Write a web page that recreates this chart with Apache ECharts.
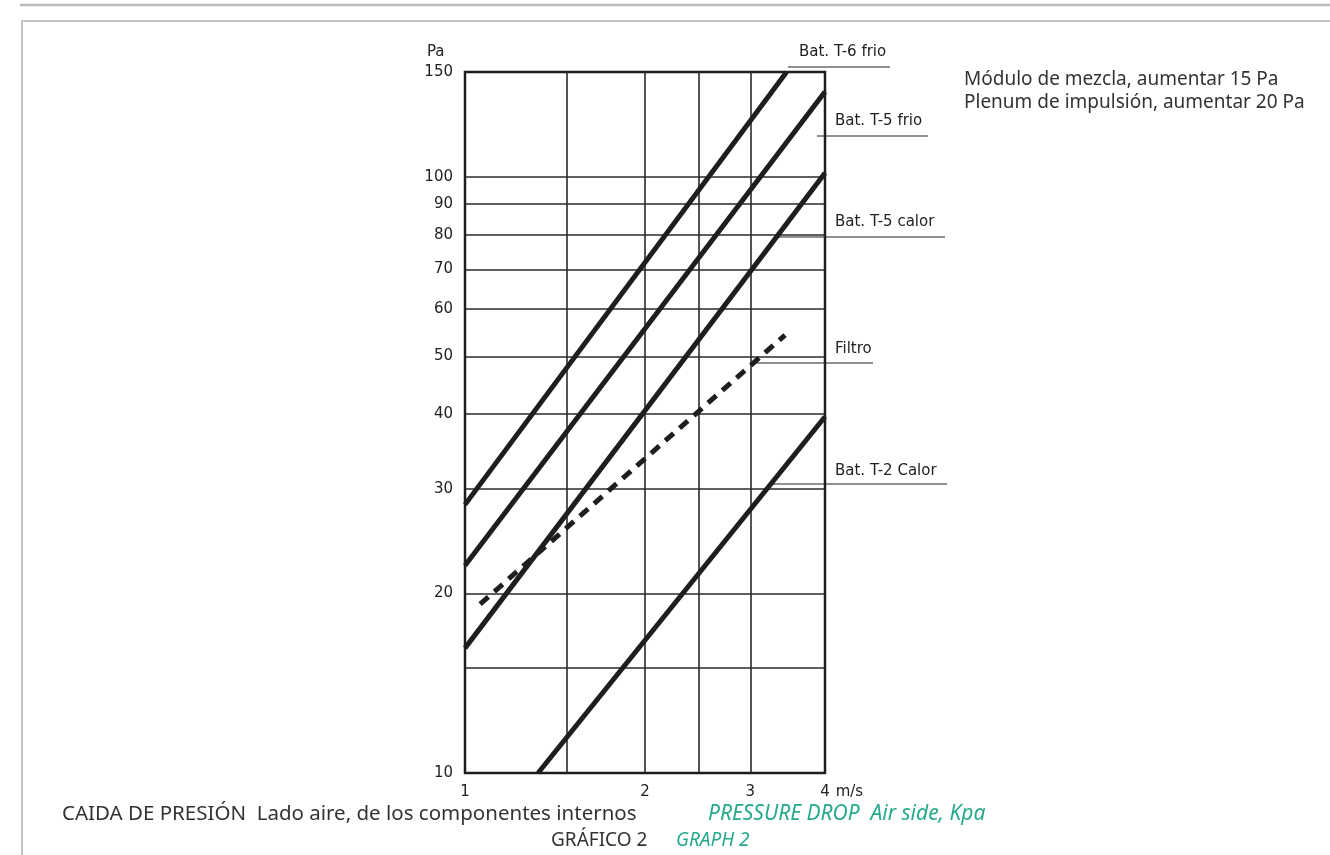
<!DOCTYPE html>
<html>
<head>
<meta charset="utf-8">
<script src="https://cdn.jsdelivr.net/npm/echarts@6/dist/echarts.min.js"></script>
<style>
  html, body { margin: 0; padding: 0; background: #fff; }
  #chart { width: 1330px; height: 855px; }
</style>
</head>
<body>
<div id="chart"></div>
<script>
// tick labels
const xLabels = [1, 2, 3, 4];
const yLabels = [10, 20, 30, 40, 50, 60, 70, 80, 90, 100, 150];
// grid lines
const xGrid = [1.48, 2, 2.46, 3];
const yGrid = [15, 20, 30, 40, 50, 60, 70, 80, 90, 100];

// curves: [velocity m/s, pressure Pa]
const t6Frio = [[1, 28.2], [3.45, 150]];
const t5Frio = [[1, 22.3], [4, 139]];
const t5Calor = [[1, 16.2], [4, 101.5]];
const filtro = [[1.06, 19.2], [3.43, 54.3]];
const t2Calor = [[1.325, 10], [4, 39.6]];

const seriesNames = ['Bat. T-6 frio', 'Bat. T-5 frio', 'Bat. T-5 calor', 'Filtro', 'Bat. T-2 Calor'];

const chart = echarts.init(document.getElementById('chart'));

const axisFont = { fontFamily: 'DejaVu Sans', fontSize: 15, color: '#222' };
const textFont = 'Noto Sans';
const green = '#27a98c';

function curve(name, data, dashed) {
    return {
        name: name,
        type: 'line',
        data: data,
        symbol: 'none',
        silent: true,
        lineStyle: { color: '#1e1e1e', width: 5, type: dashed ? [11, 8] : 'solid', cap: 'butt' },
        z: 5
    };
}

// annotation label with underline
function tag(text, x, y, x1, x2, ly) {
    return [
        { type: 'text', left: x, top: y, style: { text: text, font: '15px DejaVu Sans', fill: '#222' } },
        { type: 'line', shape: { x1: x1, y1: ly, x2: x2, y2: ly }, style: { stroke: '#222', lineWidth: 1.2 } }
    ];
}

function caption(text, x, y, size, italic) {
    return {
        type: 'text', left: x, top: y,
        style: { text: text, font: (italic ? 'italic ' : '') + size + 'px ' + textFont, fill: italic ? green : '#333' }
    };
}

chart.setOption({
    animation: false,
    grid: {
        left: 465, right: 505, top: 72, bottom: 82,
        show: true, borderColor: '#1e1e1e', borderWidth: 2.5
    },
    xAxis: {
        type: 'log', logBase: 2, min: 1, max: 4,
        name: 'm/s', nameLocation: 'end', nameGap: 8,
        nameTextStyle: { fontFamily: 'DejaVu Sans', fontSize: 15, color: '#222', verticalAlign: 'top', padding: [12, 0, 0, 0] },
        axisLine: { show: false },
        axisTick: { show: false },
        splitLine: { show: false },
        minorSplitLine: { show: false },
        axisLabel: Object.assign({ customValues: xLabels, margin: 12 }, axisFont)
    },
    yAxis: {
        type: 'log', logBase: 10, min: 10, max: 150,
        name: 'Pa', nameLocation: 'end', nameGap: 12,
        nameTextStyle: { fontFamily: 'DejaVu Sans', fontSize: 15, color: '#222', align: 'left', padding: [0, 0, 0, -38] },
        axisLine: { show: false },
        axisTick: { show: false },
        splitLine: { show: false },
        axisLabel: Object.assign({ customValues: yLabels, margin: 12 }, axisFont)
    },
    series: [
        {
            type: 'line', data: [], silent: true,
            markLine: {
                silent: true, symbol: 'none', label: { show: false },
                lineStyle: { color: '#2a2a2a', width: 1.6, type: 'solid' },
                data: xGrid.map(v => ({ xAxis: v })).concat(yGrid.map(v => ({ yAxis: v })))
            },
            z: 2
        },
        curve(seriesNames[0], t6Frio),
        curve(seriesNames[1], t5Frio),
        curve(seriesNames[2], t5Calor),
        curve(seriesNames[3], filtro, true),
        curve(seriesNames[4], t2Calor)
    ],
    graphic: [
        // page frame
        { type: 'line', shape: { x1: 20, y1: 5, x2: 1330, y2: 5 }, style: { stroke: '#bdbdbd', lineWidth: 2.5 } },
        { type: 'polyline', shape: { points: [[22, 855], [22, 21], [1330, 21]] }, style: { stroke: '#c4c4c4', lineWidth: 2, fill: null } },
        // side notes
        { type: 'text', left: 964, top: 68, style: { text: 'Módulo de mezcla, aumentar 15 Pa\nPlenum de impulsión, aumentar 20 Pa', font: '19px ' + textFont, fill: '#333', lineHeight: 23 } },
        // bottom captions
        caption('CAIDA DE PRESIÓN  Lado aire, de los componentes internos', 62, 804, 20.5, false),
        caption('PRESSURE DROP  Air side, Kpa', 708, 804, 21, true),
        caption('GRÁFICO 2', 551, 831, 19, false),
        caption('GRAPH 2', 676, 831, 19, true)
    ]
        .concat(tag(seriesNames[0], 799, 45, 788, 890, 67))
        .concat(tag(seriesNames[1], 835, 114, 817, 928, 136))
        .concat(tag(seriesNames[2], 835, 215, 775, 945, 237))
        .concat(tag(seriesNames[3], 835, 342, 750, 873, 363))
        .concat(tag(seriesNames[4], 835, 464, 772, 947, 484))
});
</script>
</body>
</html>
